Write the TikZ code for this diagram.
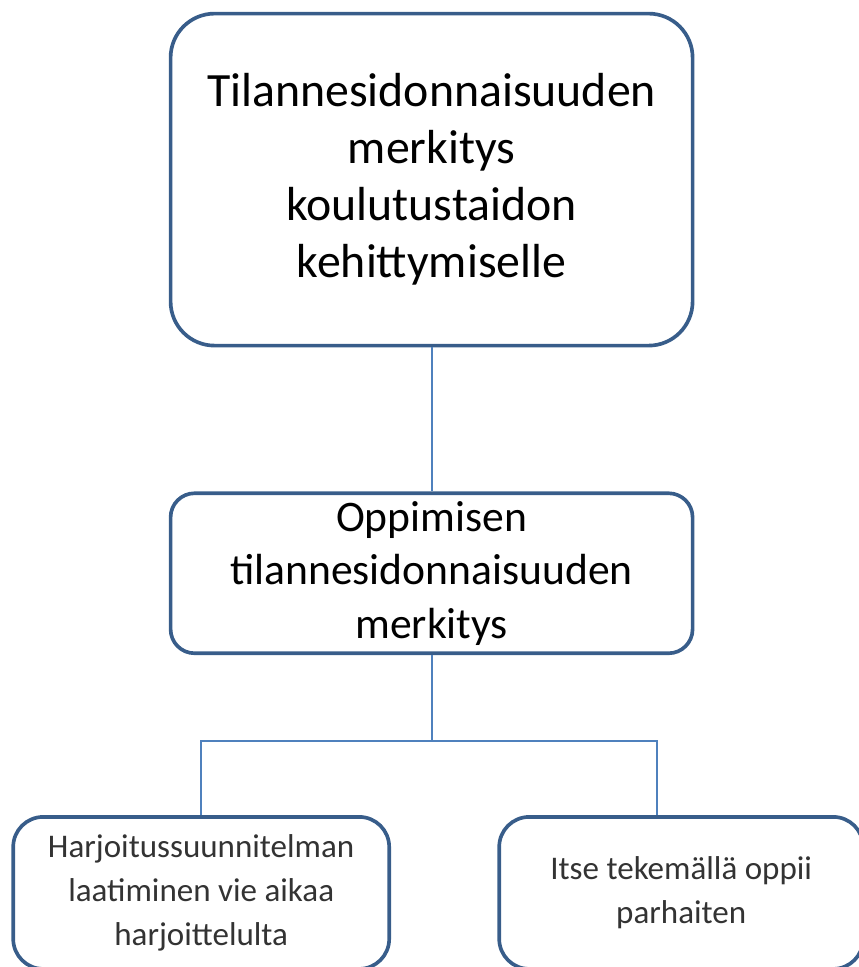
\documentclass[tikz,border=0pt]{standalone}
\usepackage{fontspec}
\setmainfont{Carlito}
\usepackage{xcolor}
\usepackage{tikz}
\usetikzlibrary{positioning,calc}
\definecolor{boxblue}{RGB}{56,93,138}
\definecolor{linkblue}{RGB}{79,129,189}

\begin{document}
\begin{tikzpicture}[auto,
	main node/.style={rectangle,draw=boxblue,line width=2.6pt,fill=white,align=center,
		inner sep=0pt,minimum width=13.05cm},
	top node/.style={main node,rounded corners=1.1cm,minimum height=8.3cm,
		font=\fontsize{34}{40.5}\selectfont},
	mid node/.style={main node,rounded corners=0.6cm,minimum height=4cm,
		font=\fontsize{31}{38}\selectfont},
	leaf node/.style={main node,rounded corners=0.75cm,minimum height=3.8cm,
		text=black!80,font=\fontsize{23.5}{31}\selectfont},
	link/.style={draw=linkblue,line width=1.5pt}]

    \useasboundingbox (0,0) rectangle (21.475,-24.175);

    \node[top node] (T) at (10.79,-4.49) {Tilannesidonnaisuuden\\merkitys\\koulutustaidon\\kehittymiselle};
    \node[mid node] (M) [below = 3.6cm of T] {Oppimisen\\tilannesidonnaisuuden\\merkitys};
    \node[leaf node,minimum width=9.4cm] (L) [below = 4cm of M, xshift=-5.76cm] {Harjoitussuunnitelman\\laatiminen vie aikaa\\harjoittelulta};
    \node[leaf node,minimum width=9.1cm] (R) [below = 4cm of M, xshift=6.24cm] {Itse tekemällä oppii\\parhaiten};

    \coordinate (split) at ($(M.south)+(0,-2.15)$);
    \coordinate (rdrop) at ($(split)+(5.64,0)$);

    \path[link]
	(T) edge node {} (M)
	(M.south) edge node {} (split);
    \draw[link] (L.north) |- (split) -- (rdrop) -- (rdrop |- R.north);

	\end{tikzpicture}
\end{document}
